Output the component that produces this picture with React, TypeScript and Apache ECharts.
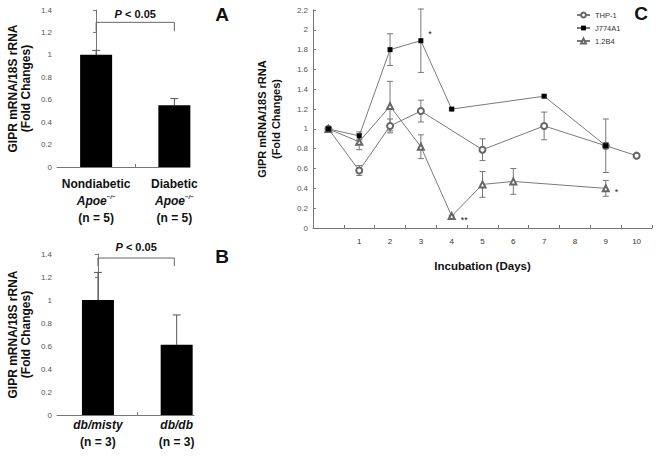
import React, { useEffect, useRef } from "react";
import * as echarts from "echarts";

// ---------- Data ----------
const aCategories = ["Nondiabetic", "Diabetic"];
const aGenotype = ["Apoe", "Apoe"];
const aN = ["(n = 5)", "(n = 5)"];
const aValues = [1.0, 0.55];
const aErrors = [0.04, 0.06];

const bCategories = ["db/misty", "db/db"];
const bN = ["(n = 3)", "(n = 3)"];
const bValues = [1.0, 0.61];
const bErrors = [0.24, 0.26];

const pText = "P < 0.05";

const days = ["0", "1", "2", "3", "4", "5", "6", "7", "8", "9", "10"];
const thp1 = [1.0, 0.58, 1.03, 1.18, null, 0.79, null, 1.03, null, 0.83, 0.73];
const thp1Err = [0.02, 0.05, 0.07, 0.11, null, 0.11, null, 0.14, null, 0.03, 0.02];
const j774 = [1.0, 0.93, 1.8, 1.89, 1.2, null, null, 1.33, null, 0.83, null];
const j774Err = [0.02, 0.04, 0.16, 0.32, 0.01, null, null, 0.01, null, 0.27, null];
const j774Sig = ["", "", "", "*", "", "", "", "", "", "", ""];
const b4 = [1.0, 0.87, 1.23, 0.82, 0.12, 0.44, 0.47, null, null, 0.4, null];
const b4Err = [0.02, 0.08, 0.25, 0.12, 0.01, 0.13, 0.13, null, null, 0.08, null];
const b4Sig = ["", "", "", "", "**", "", "", "", "", "*", ""];

const seriesNames = ["THP-1", "J774A1", "1.2B4"];
const yNameText = "GIPR mRNA/18S rRNA\n(Fold Changes)";
const xNameC = "Incubation (Days)";

const FONT = "Liberation Sans, Arial, Helvetica, sans-serif";
const AXIS = "#777";
const LINE = "#7a7a7a";

function upperErr(color: string) {
  return (params: any, api: any) => {
    const x = api.value(0);
    const v = api.value(1);
    const e = api.value(2);
    const p0 = api.coord([x, v]);
    const p1 = api.coord([x, v + e]);
    const h = 4;
    return {
      type: "group",
      children: [
        { type: "line", shape: { x1: p0[0], y1: p0[1], x2: p1[0], y2: p1[1] }, style: { stroke: color, lineWidth: 1 } },
        { type: "line", shape: { x1: p1[0] - h, y1: p1[1], x2: p1[0] + h, y2: p1[1] }, style: { stroke: color, lineWidth: 1 } },
      ],
    };
  };
}

function bothErr(color: string) {
  return (params: any, api: any) => {
    const x = api.value(0);
    const v = api.value(1);
    const e = api.value(2);
    const p0 = api.coord([x, v - e]);
    const p1 = api.coord([x, v + e]);
    const h = 3;
    return {
      type: "group",
      children: [
        { type: "line", shape: { x1: p0[0], y1: p0[1], x2: p1[0], y2: p1[1] }, style: { stroke: color, lineWidth: 1 } },
        { type: "line", shape: { x1: p1[0] - h, y1: p1[1], x2: p1[0] + h, y2: p1[1] }, style: { stroke: color, lineWidth: 1 } },
        { type: "line", shape: { x1: p0[0] - h, y1: p0[1], x2: p0[0] + h, y2: p0[1] }, style: { stroke: color, lineWidth: 1 } },
      ],
    };
  };
}

function bracket(top: number, drop: number, textGap: number) {
  return (params: any, api: any) => {
    const a = api.coord([api.value(0), top]);
    const b = api.coord([api.value(1), top]);
    const ad = api.coord([api.value(0), drop]);
    const bd = api.coord([api.value(1), drop]);
    return {
      type: "group",
      children: [
        {
          type: "polyline",
          shape: { points: [[ad[0], ad[1]], [a[0], a[1]], [b[0], b[1]], [bd[0], bd[1]]] },
          style: { stroke: "#666", lineWidth: 1, fill: null },
        },
        {
          type: "text",
          x: (a[0] + b[0]) / 2,
          y: a[1] - textGap,
          style: {
            text: "{i|P}{n| " + pText.slice(2) + "}",
            rich: {
              i: { fontStyle: "italic", fontWeight: "bold", fontSize: 11, fontFamily: FONT, fill: "#111" },
              n: { fontWeight: "bold", fontSize: 11, fontFamily: FONT, fill: "#111" },
            },
            align: "center",
            verticalAlign: "middle",
          },
        },
      ],
    };
  };
}

const richAB = {
  b: { fontWeight: "bold", fontSize: 12, color: "#111", lineHeight: 17, fontFamily: FONT },
  i: { fontWeight: "bold", fontStyle: "italic", fontSize: 12, color: "#111", lineHeight: 17, fontFamily: FONT },
  s: { fontWeight: "bold", fontStyle: "italic", fontSize: 6, color: "#111", lineHeight: 17, fontFamily: FONT, padding: [0, 0, 7, 0] },
};

function yAxisAB(gridIndex: number) {
  return {
    gridIndex,
    type: "value",
    min: 0,
    max: 1.4,
    interval: 0.2,
    axisLine: { show: true, lineStyle: { color: AXIS } },
    axisTick: { show: true, length: 3, lineStyle: { color: AXIS } },
    splitLine: { show: false },
    axisLabel: { fontSize: 8, color: "#555", margin: 5, fontFamily: FONT },
    name: yNameText,
    nameLocation: "middle",
    nameGap: 25,
    nameTextStyle: { fontSize: 12, fontWeight: "bold", color: "#111", lineHeight: 13, fontFamily: FONT },
  };
}

function sigItem(v: number | null, sig: string, offset: number[]) {
  if (!sig || v === null) return v;
  return {
    value: v,
    label: {
      show: true,
      formatter: sig,
      position: "right",
      distance: 5,
      offset,
      fontSize: 9,
      color: "#222",
      fontFamily: FONT,
    },
  };
}

function errData(vals: (number | null)[], errs: (number | null)[]) {
  const out: number[][] = [];
  vals.forEach((v, i) => {
    if (v !== null && errs[i] !== null) out.push([i, v, errs[i] as number]);
  });
  return out;
}

export default function App() {
  const ref = useRef<HTMLDivElement>(null);
  useEffect(() => {
    if (!ref.current) return;
    const chart = echarts.init(ref.current, undefined, { renderer: "svg" });
    const option: any = {
      animation: false,
      backgroundColor: "#fff",
      textStyle: { fontFamily: FONT },
      grid: [
        { left: 57, top: 10, width: 133, height: 157 },
        { left: 57, top: 254, width: 137, height: 161 },
        { left: 313, top: 10, width: 339, height: 218 },
      ],
      legend: {
        data: seriesNames,
        orient: "vertical",
        left: 571,
        top: 6,
        itemWidth: 13,
        itemHeight: 6,
        itemGap: 5,
        textStyle: { fontSize: 7.5, color: "#333", fontFamily: FONT },
      },
      xAxis: [
        {
          gridIndex: 0,
          type: "value",
          min: -0.5,
          max: 1.2,
          axisLine: { show: true, lineStyle: { color: AXIS } },
          axisTick: { show: true, inside: true, length: 3, customValues: [0.5], lineStyle: { color: AXIS } },
          splitLine: { show: false },
          axisLabel: {
            customValues: [0, 1],
            margin: 8,
            formatter: (v: number) => {
              const i = Math.round(v);
              return `{b|${aCategories[i]}}\n{i|${aGenotype[i]}}{s|−/−}\n{b|${aN[i]}}`;
            },
            rich: richAB,
          },
        },
        {
          gridIndex: 1,
          type: "value",
          min: -0.52,
          max: 1.22,
          axisLine: { show: true, lineStyle: { color: AXIS } },
          axisTick: { show: true, inside: true, length: 3, customValues: [0.5], lineStyle: { color: AXIS } },
          splitLine: { show: false },
          axisLabel: {
            customValues: [0, 1],
            margin: 1,
            formatter: (v: number) => {
              const i = Math.round(v);
              return `{i|${bCategories[i]}}\n{b|${bN[i]}}`;
            },
            rich: richAB,
          },
        },
        {
          gridIndex: 2,
          type: "category",
          data: days,
          boundaryGap: true,
          axisLine: { show: true, lineStyle: { color: AXIS } },
          axisTick: { show: true, inside: true, length: 3, interval: 0, lineStyle: { color: AXIS } },
          axisLabel: {
            interval: 0,
            fontSize: 8,
            color: "#333",
            margin: 9,
            fontFamily: FONT,
            formatter: (v: string) => (v === "0" ? "" : v),
          },
          name: xNameC,
          nameLocation: "middle",
          nameGap: 32,
          nameTextStyle: { fontSize: 11.5, fontWeight: "bold", color: "#111", fontFamily: FONT },
        },
      ],
      yAxis: [
        yAxisAB(0),
        yAxisAB(1),
        {
          gridIndex: 2,
          type: "value",
          min: 0,
          max: 2.2,
          interval: 0.2,
          axisLine: { show: true, lineStyle: { color: AXIS } },
          axisTick: { show: true, inside: true, length: 3, lineStyle: { color: AXIS } },
          splitLine: { show: false },
          axisLabel: { fontSize: 8, color: "#555", margin: 5, fontFamily: FONT },
          name: yNameText,
          nameLocation: "middle",
          nameGap: 30,
          nameTextStyle: { fontSize: 11, fontWeight: "bold", color: "#111", lineHeight: 14, fontFamily: FONT },
        },
      ],
      series: [
        // Panel A
        {
          type: "bar",
          xAxisIndex: 0,
          yAxisIndex: 0,
          data: aValues.map((v, i) => [i, v]),
          barWidth: 32,
          itemStyle: { color: "#000" },
          silent: true,
        },
        {
          type: "custom",
          xAxisIndex: 0,
          yAxisIndex: 0,
          data: aValues.map((v, i) => [i, v, aErrors[i]]),
          renderItem: upperErr("#555"),
          z: 1,
        },
        {
          type: "custom",
          xAxisIndex: 0,
          yAxisIndex: 0,
          data: [[0, 1]],
          renderItem: bracket(1.29, 1.21, 8),
        },
        // Panel B
        {
          type: "bar",
          xAxisIndex: 1,
          yAxisIndex: 1,
          data: bValues.map((v, i) => [i, v]),
          barWidth: 32,
          itemStyle: { color: "#000" },
          silent: true,
        },
        {
          type: "custom",
          xAxisIndex: 1,
          yAxisIndex: 1,
          data: bValues.map((v, i) => [i, v, bErrors[i]]),
          renderItem: upperErr("#555"),
          z: 1,
        },
        {
          type: "custom",
          xAxisIndex: 1,
          yAxisIndex: 1,
          data: [[0, 0.97]],
          renderItem: bracket(1.365, 1.295, 11),
        },
        // Panel C error bars
        {
          type: "custom",
          xAxisIndex: 2,
          yAxisIndex: 2,
          data: errData(thp1, thp1Err),
          renderItem: bothErr("#777"),
          z: 1,
        },
        {
          type: "custom",
          xAxisIndex: 2,
          yAxisIndex: 2,
          data: errData(j774, j774Err),
          renderItem: bothErr("#777"),
          z: 1,
        },
        {
          type: "custom",
          xAxisIndex: 2,
          yAxisIndex: 2,
          data: errData(b4, b4Err),
          renderItem: bothErr("#777"),
          z: 1,
        },
        // Panel C lines
        {
          name: seriesNames[0],
          type: "line",
          xAxisIndex: 2,
          yAxisIndex: 2,
          data: thp1,
          connectNulls: true,
          symbol: "emptyCircle",
          symbolSize: 6,
          itemStyle: { color: "#666", borderWidth: 1 },
          lineStyle: { color: LINE, width: 1 },
          z: 3,
        },
        {
          name: seriesNames[1],
          type: "line",
          xAxisIndex: 2,
          yAxisIndex: 2,
          data: j774.map((v, i) => sigItem(v, j774Sig[i], [0, -7])),
          connectNulls: true,
          symbol: "rect",
          symbolSize: 5,
          itemStyle: { color: "#000" },
          lineStyle: { color: LINE, width: 1 },
          z: 4,
        },
        {
          name: seriesNames[2],
          type: "line",
          xAxisIndex: 2,
          yAxisIndex: 2,
          data: b4.map((v, i) => sigItem(v, b4Sig[i], [0, 4])),
          connectNulls: true,
          symbol: "emptyTriangle",
          symbolSize: 6,
          itemStyle: { color: "#666", borderWidth: 1 },
          lineStyle: { color: LINE, width: 1 },
          z: 3,
        },
      ],
      graphic: [
        { type: "text", x: 222, y: 14, style: { text: "A", fontSize: 19, fontWeight: "bold", fontFamily: FONT, fill: "#111", align: "center", verticalAlign: "middle" } },
        { type: "text", x: 222, y: 256, style: { text: "B", fontSize: 19, fontWeight: "bold", fontFamily: FONT, fill: "#111", align: "center", verticalAlign: "middle" } },
        { type: "text", x: 641, y: 13, style: { text: "C", fontSize: 19, fontWeight: "bold", fontFamily: FONT, fill: "#111", align: "center", verticalAlign: "middle" } },
      ],
    };
    chart.setOption(option);
    return () => chart.dispose();
  }, []);
  return (
    <div
      ref={ref}
      style={{ position: "fixed", left: 0, top: 0, width: 656, height: 458, background: "#fff" }}
    />
  );
}
